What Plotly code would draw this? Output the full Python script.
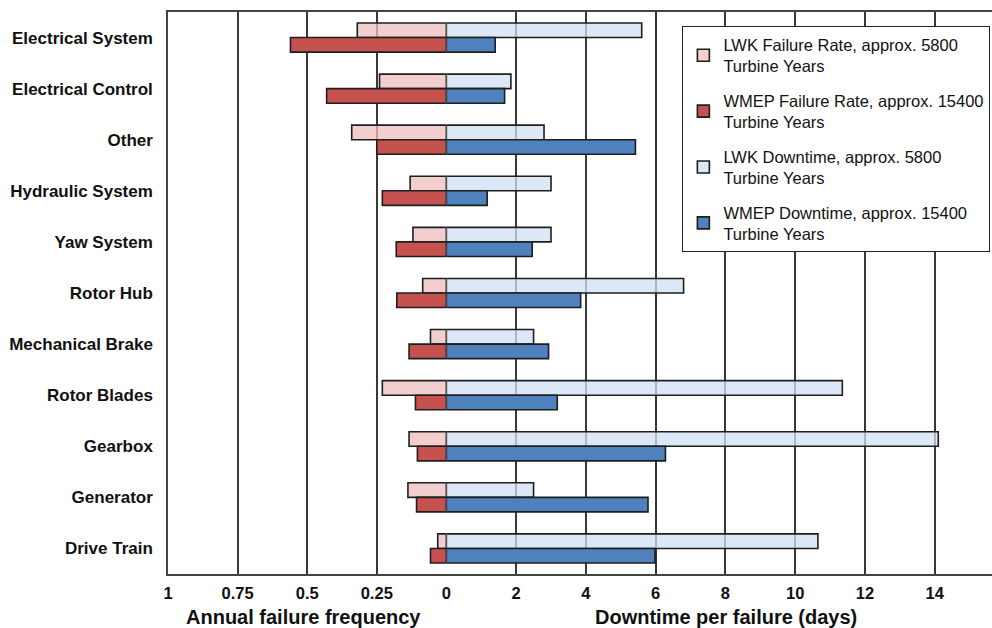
import plotly.graph_objects as go

# Components, listed top to bottom
components = [
    "Electrical System", "Electrical Control", "Other", "Hydraulic System",
    "Yaw System", "Rotor Hub", "Mechanical Brake", "Rotor Blades",
    "Gearbox", "Generator", "Drive Train",
]

# Annual failure frequency (failures per turbine per year)
lwk_rate = [0.32, 0.24, 0.34, 0.13, 0.12, 0.085, 0.057, 0.23, 0.134, 0.138, 0.031]
wmep_rate = [0.56, 0.43, 0.25, 0.23, 0.18, 0.178, 0.134, 0.111, 0.104, 0.107, 0.057]

# Downtime per failure (days)
lwk_down = [5.6, 1.85, 2.8, 3.0, 3.0, 6.8, 2.5, 11.35, 14.1, 2.5, 10.65]
wmep_down = [1.4, 1.67, 5.42, 1.17, 2.46, 3.85, 2.93, 3.18, 6.28, 5.78, 5.98]

left_ticks = [1, 0.75, 0.5, 0.25]
right_ticks = [0, 2, 4, 6, 8, 10, 12, 14]

FONT = "Liberation Sans, Arial, sans-serif"
OUTLINE = dict(color="#1e1e1e", width=1.6)
GRID = "#383838"

series = [
    ("LWK Failure Rate, approx. 5800<br>Turbine Years", lwk_rate, "x",
     "rgba(238,190,190,0.75)"),
    ("WMEP Failure Rate, approx. 15400<br>Turbine Years", wmep_rate, "x",
     "#c65250"),
    ("LWK Downtime, approx. 5800<br>Turbine Years", lwk_down, "x2",
     "rgba(210,224,243,0.75)"),
    ("WMEP Downtime, approx. 15400<br>Turbine Years", wmep_down, "x2",
     "#4f81bd"),
]

fig = go.Figure()
for i, (name, values, xa, color) in enumerate(series):
    fig.add_trace(go.Bar(
        y=components, x=values, orientation="h", xaxis=xa, yaxis="y",
        name=name, legendgroup=f"g{i}",
        marker=dict(color=color, line=OUTLINE),
    ))

split = 0.3378
left_max = 1.0
right_max = 15.64

tick_font = dict(family=FONT, size=16.5, color="#111111", weight="bold")
axis_common = dict(
    tickfont=tick_font, showgrid=True, gridcolor=GRID, gridwidth=1.5,
    zeroline=False, showline=True, linecolor="#444444", linewidth=1.5,
    mirror=True, ticks="", ticklabelstandoff=3,
)

fig.update_layout(
    width=992, height=628,
    margin=dict(l=168, r=0, t=12, b=54, autoexpand=False),
    paper_bgcolor="white", plot_bgcolor="white",
    barmode="group", bargap=0.43, bargroupgap=0,
    font=dict(family=FONT, color="#111111"),
    xaxis=dict(
        domain=[0, split], range=[left_max, 0],
        tickvals=left_ticks, ticktext=[str(v) for v in left_ticks],
        **axis_common,
    ),
    xaxis2=dict(
        domain=[split, 1], range=[0, right_max], anchor="y",
        tickvals=right_ticks, ticktext=[str(v) for v in right_ticks],
        **axis_common,
    ),
    yaxis=dict(
        type="category", categoryorder="array", categoryarray=components,
        range=[len(components) - 0.5, -0.5],
        tickfont=dict(family=FONT, size=17, color="#111111", weight="bold"),
        showgrid=False, zeroline=False, showline=True,
        linecolor="#444444", linewidth=1.5, ticks="", ticklabelstandoff=10,
    ),
    legend=dict(
        x=0.624, y=0.975, xanchor="left", yanchor="top",
        bgcolor="white", bordercolor="#222222", borderwidth=1.2,
        font=dict(family=FONT, size=16.5, color="#111111"),
        traceorder="grouped", tracegroupgap=10, itemwidth=30,
    ),
    annotations=[
        dict(text="<b>Annual failure frequency</b>", xref="paper", yref="paper",
             x=0.165, y=-0.0765, xanchor="center", yanchor="middle",
             showarrow=False, font=dict(family=FONT, size=20, color="#111111")),
        dict(text="<b>Downtime per failure (days)</b>", xref="paper", yref="paper",
             x=0.677, y=-0.0765, xanchor="center", yanchor="middle",
             showarrow=False, font=dict(family=FONT, size=20, color="#111111")),
    ],
)

fig.write_html("out.html")
